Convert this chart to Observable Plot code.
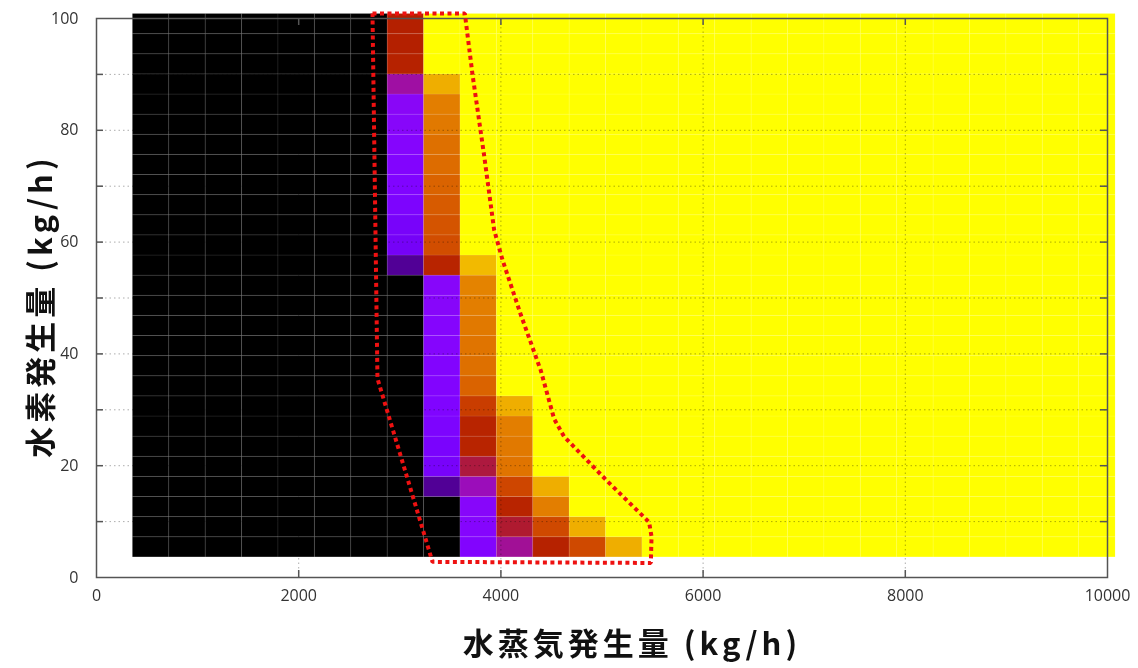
<!DOCTYPE html>
<html>
<head>
<meta charset="utf-8">
<script src="https://cdn.jsdelivr.net/npm/d3@7"></script>
<script src="https://cdn.jsdelivr.net/npm/@observablehq/plot@0.6"></script>
<style>
  html, body { margin: 0; padding: 0; background: #fff; }
  #chart svg { display: block; }
  g[font-family*="CJK"] text { letter-spacing: 4px; }
</style>
</head>
<body>
<div id="chart"></div>
<script>
// ---- data ----
// left edge of each steam column (kg/h), 27 columns of 360 kg/h
const steamLeft = [360, 720, 1080, 1440, 1800, 2160, 2520, 2880, 3240, 3600, 3960, 4320, 4680, 5040, 5400, 5760, 6120, 6480, 6840, 7200, 7560, 7920, 8280, 8640, 9000, 9360, 9720];
const steamWidth = 360;
// bottom edge of each hydrogen row (kg/h), 27 rows of 3.6 kg/h
const h2Bottom = [3.6, 7.2, 10.8, 14.4, 18, 21.6, 25.2, 28.8, 32.4, 36, 39.6, 43.2, 46.8, 50.4, 54, 57.6, 61.2, 64.8, 68.4, 72, 75.6, 79.2, 82.8, 86.4, 90, 93.6, 97.2];
const h2Height = 3.6;

// columns left of 2880 are all 0 (black); columns from 5400 on are all 1 (yellow)
const blackColumnsEnd = 2880;
const yellowColumnsStart = 5400;
// transition columns, values from the bottom row (3.6) to the top row (97.2)
const col2880 = [0, 0, 0, 0, 0, 0, 0, 0, 0, 0, 0, 0, 0, 0, 0.10, 0.21, 0.22, 0.24, 0.25, 0.26, 0.27, 0.28, 0.29, 0.39, 0.51, 0.50, 0.50];
const col3240 = [0, 0, 0, 0.10, 0.22, 0.23, 0.24, 0.25, 0.26, 0.26, 0.27, 0.27, 0.28, 0.28, 0.52, 0.67, 0.69, 0.71, 0.73, 0.75, 0.76, 0.78, 0.79, 0.88, 1, 1, 1];
const col3600 = [0.26, 0.27, 0.28, 0.37, 0.46, 0.52, 0.52, 0.62, 0.73, 0.76, 0.77, 0.78, 0.79, 0.80, 0.90, 1, 1, 1, 1, 1, 1, 1, 1, 1, 1, 1, 1];
const col3960 = [0.40, 0.47, 0.52, 0.65, 0.77, 0.78, 0.79, 0.88, 1, 1, 1, 1, 1, 1, 1, 1, 1, 1, 1, 1, 1, 1, 1, 1, 1, 1, 1];
const col4320 = [0.51, 0.66, 0.79, 0.88, 1, 1, 1, 1, 1, 1, 1, 1, 1, 1, 1, 1, 1, 1, 1, 1, 1, 1, 1, 1, 1, 1, 1];
const col4680 = [0.66, 0.88, 1, 1, 1, 1, 1, 1, 1, 1, 1, 1, 1, 1, 1, 1, 1, 1, 1, 1, 1, 1, 1, 1, 1, 1, 1];
const col5040 = [0.88, 1, 1, 1, 1, 1, 1, 1, 1, 1, 1, 1, 1, 1, 1, 1, 1, 1, 1, 1, 1, 1, 1, 1, 1, 1, 1];
const transitionColumns = {2880: col2880, 3240: col3240, 3600: col3600, 3960: col3960, 4320: col4320, 4680: col4680, 5040: col5040};

// red dotted outline (kg/h steam, kg/h hydrogen)
const outlineSteam = [2730, 3643, 3719, 3834, 3933, 4016, 4197, 4395, 4526, 4625, 5054, 5466, 5490, 5483, 3323, 2779, 2730];
const outlineH2 = [100.9, 100.9, 90.0, 75.5, 62.2, 56.8, 47.0, 37.0, 28.4, 25.2, 17.2, 9.9, 7.3, 2.6, 2.8, 35.6, 100.9];

// axes
const xTickLabels = [0, 2000, 4000, 6000, 8000, 10000];
const yTickLabels = [0, 20, 40, 60, 80, 100];
const xTicks = [2000, 4000, 6000, 8000];
const yTicks = [10, 20, 30, 40, 50, 60, 70, 80, 90];
const xTitle = "水蒸気発生量 (kg/h)";
const yTitle = "水素発生量 (kg/h)";

// ---- build table ----
const cells = [];
steamLeft.forEach(sx => {
  h2Bottom.forEach((hy, r) => {
    let v;
    if (sx < blackColumnsEnd) v = 0;
    else if (sx >= yellowColumnsStart) v = 1;
    else v = transitionColumns[sx][r];
    cells.push({x1: sx, x2: sx + steamWidth, y1: hy, y2: hy + h2Height, v});
  });
});
const outline = outlineSteam.map((s, i) => ({s, h: outlineH2[i]}));

// gnuplot default palette (rgbformulae 7,5,15)
const palette = t => {
  const r = Math.sqrt(t), g = t * t * t, b = Math.max(0, Math.sin(2 * Math.PI * t));
  return `rgb(${Math.round(r * 255)},${Math.round(g * 255)},${Math.round(b * 255)})`;
};

const W = 1138, H = 668, mL = 96, mR = 31, mT = 18, mB = 91;
const fW = W - mL - mR, fH = H - mT - mB, tickLen = 7;
const axisColor = "#555";
const gridStyle = {stroke: "#999", strokeOpacity: 0.8, strokeDasharray: "1.5,3", strokeWidth: 1, mixBlendMode: "multiply"};
const fmt = d => String(d);

const chart = Plot.plot({
  width: W, height: H,
  marginLeft: mL, marginRight: mR, marginTop: mT, marginBottom: mB,
  x: {domain: [0, 10000]},
  y: {domain: [0, 100]},
  color: {type: "linear", domain: [0, 1], interpolate: palette},
  style: {fontFamily: "'Open Sans', sans-serif", background: "#fff"},
  marks: [
    Plot.rect(cells, {x1: "x1", x2: "x2", y1: "y1", y2: "y2", fill: "v", stroke: "#fff", strokeOpacity: 0.08, strokeWidth: 1}),
    Plot.ruleX(xTicks, {x: d => d, ...gridStyle}),
    Plot.ruleY(yTicks, {y: d => d, ...gridStyle}),
    Plot.frame({stroke: axisColor, strokeWidth: 1.5}),
    Plot.ruleX(xTicks, {x: d => d, insetTop: fH - tickLen, stroke: axisColor, strokeWidth: 1.5}),
    Plot.ruleX(xTicks, {x: d => d, insetBottom: fH - tickLen, stroke: axisColor, strokeWidth: 1.5}),
    Plot.ruleY(yTicks, {y: d => d, insetRight: fW - tickLen, stroke: axisColor, strokeWidth: 1.5}),
    Plot.ruleY(yTicks, {y: d => d, insetLeft: fW - tickLen, stroke: axisColor, strokeWidth: 1.5}),
    Plot.axisX(xTickLabels, {tickSize: 0, tickPadding: 12, fontSize: 16, fill: "#333", label: null, tickFormat: fmt}),
    Plot.axisY(yTickLabels, {tickSize: 0, tickPadding: 18, fontSize: 16, fill: "#333", label: null, tickFormat: fmt}),
    Plot.line(outline, {x: "s", y: "h", stroke: "#ee1111", strokeWidth: 4, strokeDasharray: "4,3.5", strokeLinecap: "butt", strokeLinejoin: "miter"}),
    Plot.text([xTitle], {text: d => d, frameAnchor: "bottom", lineAnchor: "middle", dx: 30, dy: 68, fontSize: 31, fontWeight: "bold", fill: "#111", fontFamily: "'Noto Sans CJK JP', sans-serif"}),
    Plot.text([yTitle], {text: d => d, frameAnchor: "left", textAnchor: "middle", lineAnchor: "middle", rotate: -90, dx: -54, dy: 8, fontSize: 31, fontWeight: "bold", fill: "#111", fontFamily: "'Noto Sans CJK JP', sans-serif"})
  ]
});
document.getElementById("chart").appendChild(chart);
</script>
</body>
</html>
